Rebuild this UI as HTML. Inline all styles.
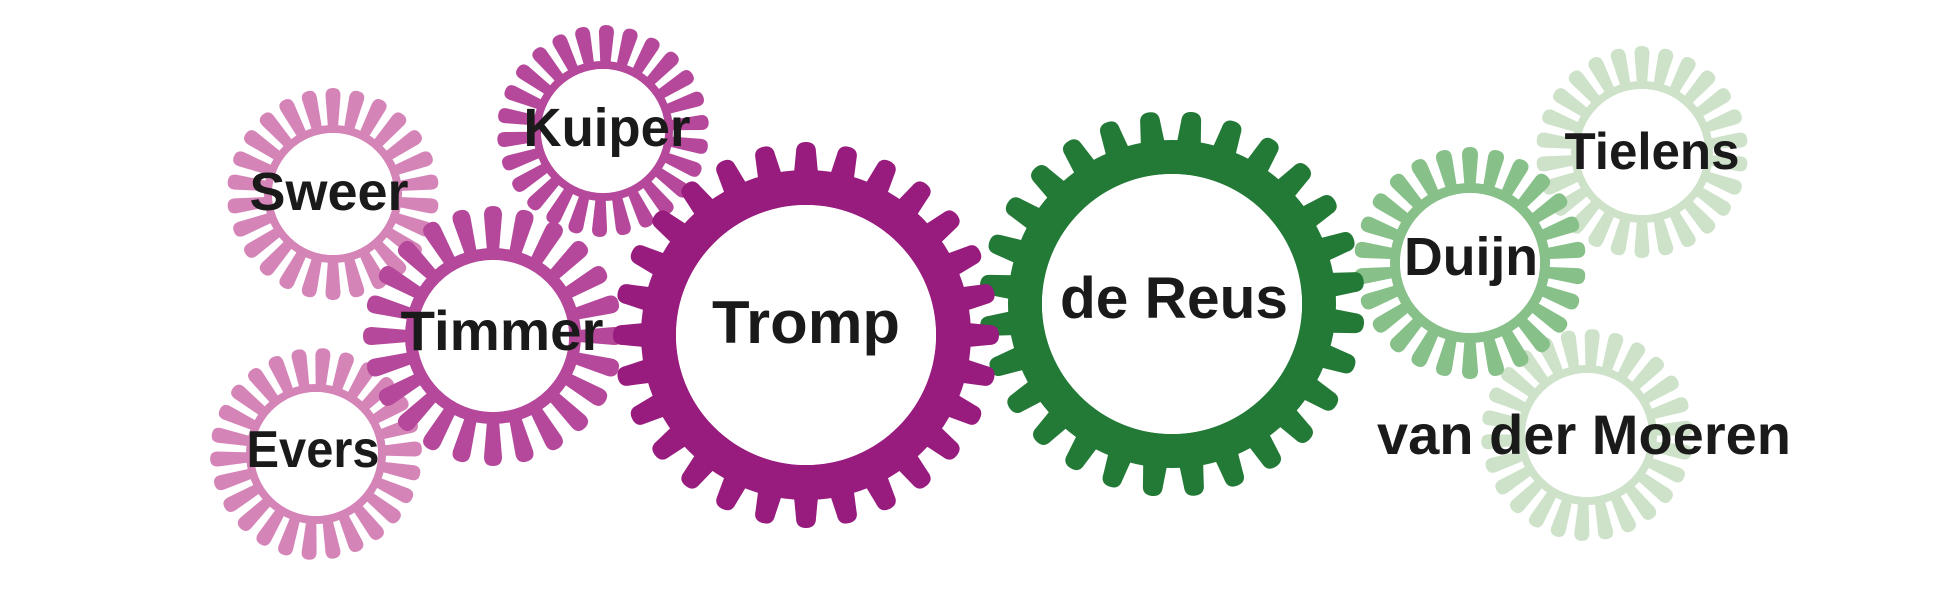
<!DOCTYPE html>
<html><head><meta charset="utf-8">
<style>
html,body{margin:0;padding:0;background:#fff;}
svg{display:block;}
text{font-family:"Liberation Sans",sans-serif;font-weight:bold;fill:#1a1a1a;}
</style></head>
<body>
<svg id="s" width="1958" height="604" viewBox="0 0 1958 604" xmlns="http://www.w3.org/2000/svg">
<g id="gears"></g>
<g id="labels">
<text x="329" y="210" font-size="54" text-anchor="middle" textLength="159" lengthAdjust="spacingAndGlyphs">Sweer</text>
<text x="313" y="467" font-size="52" text-anchor="middle" textLength="133" lengthAdjust="spacingAndGlyphs">Evers</text>
<text x="607" y="146" font-size="54" text-anchor="middle" textLength="167" lengthAdjust="spacingAndGlyphs">Kuiper</text>
<text x="502" y="350" font-size="56" text-anchor="middle" textLength="203" lengthAdjust="spacingAndGlyphs">Timmer</text>
<text x="806" y="343" font-size="60" text-anchor="middle" textLength="188" lengthAdjust="spacingAndGlyphs">Tromp</text>
<text x="1174" y="318" font-size="58" text-anchor="middle" textLength="228" lengthAdjust="spacingAndGlyphs">de Reus</text>
<text x="1471" y="275" font-size="54" text-anchor="middle" textLength="134" lengthAdjust="spacingAndGlyphs">Duijn</text>
<text x="1652" y="169" font-size="52" text-anchor="middle" textLength="175" lengthAdjust="spacingAndGlyphs">Tielens</text>
<text x="1584" y="454" font-size="56" text-anchor="middle" textLength="414" lengthAdjust="spacingAndGlyphs">van der Moeren</text>
</g>
</svg>
<script>
var NS="http://www.w3.org/2000/svg";
var G=document.getElementById("gears");
// cx,cy, inner r, ring outer r, tip r, teeth, base half w, tip half w, color, phase
var gears=[
 [1642,152,63,71,106,26,5,7.5,"#cde2c9",0],
 [1587,435,62,70,106,26,5,7.5,"#cde2c9",3],
 [1470,263,70,80,116,26,5.5,8,"#88c08a",0],
 [333,194,61,69,106,26,5,7.5,"#d584b7",0],
 [316,454,62,70,106,26,5,7.5,"#d584b7",4],
 [603,131,62,70,106,26,5,7.5,"#b5489a",2],
 [493,336,76,88,130,24,6,9,"#b5489a",0],
 [1172,304,130,164,193,28,12,10,"#237a37",6],
 [806,335,130,165,193,28,12,10,"#981b7e",0]
];
gears.forEach(function(g){
 var cx=g[0],cy=g[1],ri=g[2],ro=g[3],rt=g[4],n=g[5],hb=g[6],ht=g[7],c=g[8],ph=g[9];
 var grp=document.createElementNS(NS,"g");
 grp.setAttribute("fill",c);
 var rb=ro-3;
 var d="M"+(-hb)+","+(-rb)+" L"+(-ht)+","+(-(rt-ht))+" Q"+(-ht)+","+(-rt)+" 0,"+(-rt)+" Q"+ht+","+(-rt)+" "+ht+","+(-(rt-ht))+" L"+hb+","+(-rb)+" Z";
 for(var i=0;i<n;i++){
  var p=document.createElementNS(NS,"path");
  p.setAttribute("d",d);
  p.setAttribute("transform","translate("+cx+","+cy+") rotate("+(i*360/n+ph)+")");
  grp.appendChild(p);
 }
 var ring=document.createElementNS(NS,"circle");
 ring.setAttribute("cx",cx);ring.setAttribute("cy",cy);
 ring.setAttribute("r",(ri+ro)/2);
 ring.setAttribute("fill","none");
 ring.setAttribute("stroke",c);
 ring.setAttribute("stroke-width",ro-ri);
 grp.appendChild(ring);
 var w=document.createElementNS(NS,"circle");
 w.setAttribute("cx",cx);w.setAttribute("cy",cy);w.setAttribute("r",ri);w.setAttribute("fill","#fff");
 grp.appendChild(w);
 G.appendChild(grp);
});
</script>
</body></html>
